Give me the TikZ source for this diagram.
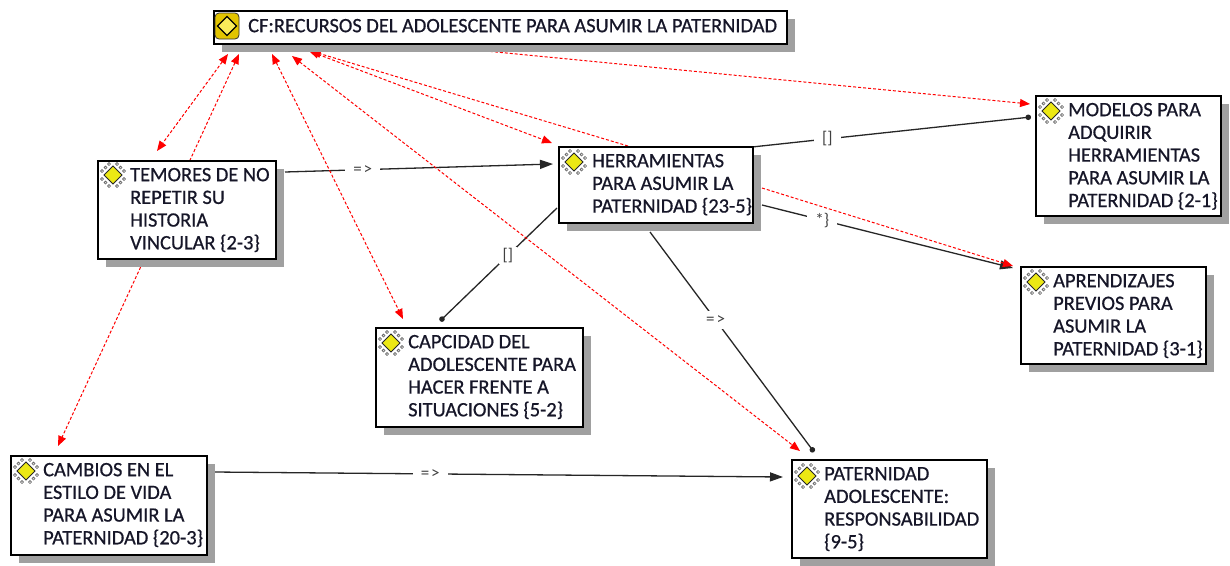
\documentclass[tikz,border=0pt]{standalone}
\usepackage{fontspec}
\setmainfont{Carlito}
\newfontfamily\boxfont{Carlito}[FakeBold=0.6]
\usetikzlibrary{arrows.meta,shadows,calc}
\definecolor{txtcol}{RGB}{22,22,40}
\definecolor{shadowgray}{RGB}{160,160,160}
\definecolor{linkred}{RGB}{255,0,0}
\definecolor{iconyellow}{RGB}{236,232,20}
\definecolor{famyellow}{RGB}{226,196,0}
\definecolor{famlight}{RGB}{250,236,90}
\newcommand{\mystrut}{\rule{0pt}{17pt}}
\pgfdeclarelayer{back}
\pgfdeclarelayer{bg}
\pgfsetlayers{back,bg,main}
\begin{document}
\begin{tikzpicture}[x=1pt,y=-1pt,
  box/.style={draw=black, line width=1.5pt, fill=white, anchor=north west, inner sep=0pt,
    drop shadow={shadow xshift=8pt, shadow yshift=-8pt, fill=shadowgray, opacity=1}},
  txt/.style={anchor=north west, inner sep=0pt, align=left,
    font=\boxfont\fontsize{20.4}{22.7}\selectfont, text=txtcol},
  lbl/.style={fill=white, inner xsep=8pt, inner ysep=3pt,
    font=\fontsize{17}{17}\selectfont, text=black!75},
  blk/.style={draw=black!85, line width=1.3pt},
  redlink/.style={draw=linkred, line width=1pt, dash pattern=on 3pt off 2pt},
  rtip/.tip={Triangle[length=10pt,width=8pt]},
  btip/.tip={Triangle[length=13pt,width=9pt]},
  dtip/.tip={Circle[length=5.5pt]},
  codeicon/.pic={
    \foreach \sx in {-1,1} \foreach \sy in {-1,1} {
      \foreach \a/\b in {4/11, 7.5/7.5, 11/4}
        \filldraw[fill=gray!30, draw=black!70, line width=0.5pt] (\sx*\a,\sy*\b) circle (1.6);
    }
    \filldraw[fill=iconyellow, draw=black!85, line width=0.8pt]
      (0,-9) -- (9,0) -- (0,9) -- (-9,0) -- cycle;
  },
  famicon/.pic={
    \filldraw[fill=famyellow, draw=black!80, line width=0.8pt, rounded corners=4pt]
      (-12,-13) rectangle (12,13);
    \filldraw[fill=famlight, draw=black, line width=1.3pt]
      (0,-9.5) -- (9.5,0) -- (0,9.5) -- (-9.5,0) -- cycle;
  }]
\useasboundingbox (0,0) rectangle (1230,565);
\begin{pgfonlayer}{back}
  \fill[white] (0,0) rectangle (1230,565);
\end{pgfonlayer}

% boxes
\node[box, minimum width=573pt, minimum height=33pt] (cf) at (213,10) {};
\node[box, minimum width=178pt, minimum height=98pt] (temores) at (97,160) {};
\node[box, minimum width=194pt, minimum height=76pt] (herr) at (558,146) {};
\node[box, minimum width=185pt, minimum height=120pt] (modelos) at (1035,95) {};
\node[box, minimum width=185pt, minimum height=97pt] (aprend) at (1020,266) {};
\node[box, minimum width=207pt, minimum height=99pt] (capc) at (375,327) {};
\node[box, minimum width=196pt, minimum height=99pt] (cambios) at (10,455) {};
\node[box, minimum width=195pt, minimum height=98pt] (patern) at (791,459) {};

% texts
\node[txt] (cfT) at ([shift={(35,5)}]cf.north west) {\mystrut CF:RECURSOS DEL ADOLESCENTE PARA ASUMIR LA PATERNIDAD};
\node[txt] (temoresT) at ([shift={(33,4)}]temores.north west) {\mystrut TEMORES DE NO\\REPETIR SU\\HISTORIA\\VINCULAR \{2-3\}};
\node[txt] (herrT) at ([shift={(34,4)}]herr.north west) {\mystrut HERRAMIENTAS\\PARA ASUMIR LA\\PATERNIDAD \{23-5\}};
\node[txt] (modelosT) at ([shift={(33,4)}]modelos.north west) {\mystrut MODELOS PARA\\ADQUIRIR\\HERRAMIENTAS\\PARA ASUMIR LA\\PATERNIDAD \{2-1\}};
\node[txt] (aprendT) at ([shift={(33,4)}]aprend.north west) {\mystrut APRENDIZAJES\\PREVIOS PARA\\ASUMIR LA\\PATERNIDAD \{3-1\}};
\node[txt] (capcT) at ([shift={(33,4)}]capc.north west) {\mystrut CAPCIDAD DEL\\ADOLESCENTE PARA\\HACER FRENTE A\\SITUACIONES \{5-2\}};
\node[txt] (cambiosT) at ([shift={(33,4)}]cambios.north west) {\mystrut CAMBIOS EN EL\\ESTILO DE VIDA\\PARA ASUMIR LA\\PATERNIDAD \{20-3\}};
\node[txt] (paternT) at ([shift={(33,4)}]patern.north west) {\mystrut PATERNIDAD\\ADOLESCENTE:\\RESPONSABILIDAD\\\{9-5\}};

% icons
\pic at ([shift={(14,16)}]cf.north west) {famicon};
\pic at ([shift={(16,15)}]temores.north west) {codeicon};
\pic at ([shift={(16,16)}]herr.north west) {codeicon};
\pic at ([shift={(16,16)}]modelos.north west) {codeicon};
\pic at ([shift={(16,16)}]aprend.north west) {codeicon};
\pic at ([shift={(16,16)}]capc.north west) {codeicon};
\pic at ([shift={(16,16)}]cambios.north west) {codeicon};
\pic at ([shift={(16,17)}]patern.north west) {codeicon};

\begin{pgfonlayer}{bg}
  % black links
  \draw[blk, -btip] ([shift={(188,12)}]temores.north west) -- node[lbl, pos=0.29] (lA) {=\hspace{2pt}>} ([shift={(-5,18)}]herr.north west);
  \draw[blk, -dtip] ([shift={(194,1)}]herr.north west) -- node[lbl, pos=0.27] (lB) {[]} ([shift={(-4,22)}]modelos.north west);
  \draw[blk, -btip] ([shift={(204,59)}]herr.north west) -- node[lbl, pos=0.24, inner ysep=2pt] (lC) {*\}} ([shift={(-7,2)}]aprend.north west);
  \draw[blk, -dtip] ([shift={(-1,62)}]herr.north west) -- node[lbl, pos=0.42, inner xsep=4pt, inner ysep=1pt] (lD) {[]} ([shift={(65,-6)}]capc.north west);
  \draw[blk, -dtip] ([shift={(92,86)}]herr.north west) -- node[lbl, pos=0.4, inner xsep=3pt, inner ysep=5pt] (lE) {=\hspace{2pt}>} ([shift={(23,-7)}]patern.north west);
  \draw[blk, -btip] ([shift={(204,17)}]cambios.north west) -- node[lbl, pos=0.38] (lF) {=\hspace{2pt}>} ([shift={(-8,18)}]patern.north west);
  % red links
  \draw[redlink, rtip-rtip] ([shift={(15,44)}]cf.north west) -- ([shift={(60,-9)}]temores.north west);
  \draw[redlink, rtip-rtip] ([shift={(26,44)}]cf.north west) -- ([shift={(48,-9)}]cambios.north west);
  \draw[redlink, rtip-rtip] ([shift={(59,44)}]cf.north west) -- ([shift={(28,-8)}]capc.north west);
  \draw[redlink, rtip-rtip] ([shift={(79,46)}]cf.north west) -- ([shift={(9,-8)}]patern.north west);
  \draw[redlink, rtip-rtip] ([shift={(96,41)}]cf.north west) -- ([shift={(-6,-3)}]herr.north west);
  \draw[redlink, -rtip] ([shift={(70,0)}]herr.north west) -- ([shift={(98,41)}]cf.north west);
  \draw[redlink, -rtip] ([shift={(242,38)}]cf.north west) -- ([shift={(-5,9)}]modelos.north west);
  \draw[redlink, -rtip] ([shift={(204,42)}]herr.north west) -- ([shift={(-7,0)}]aprend.north west);
\end{pgfonlayer}
\end{tikzpicture}
\end{document}
